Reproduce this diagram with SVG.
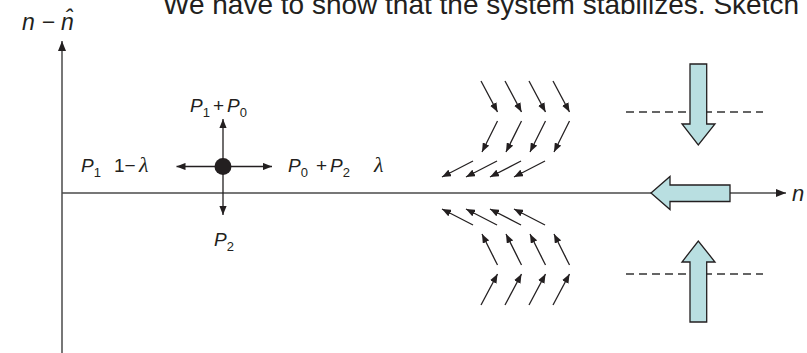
<svg xmlns="http://www.w3.org/2000/svg" width="807" height="353" viewBox="0 0 807 353">
<defs>
<style>
.ax{stroke:#4a4a4a;stroke-width:1.5;fill:none}
.sa{stroke:#231f20;stroke-width:1.3;fill:none;marker-end:url(#ah)}
.big{fill:#b9dfe1;stroke:#231f20;stroke-width:1.3;stroke-linejoin:miter}
.dash{stroke:#333;stroke-width:1.5;stroke-dasharray:8,5;fill:none}
.lab{font-family:"Liberation Sans",Arial,sans-serif;fill:#231f20}
.it{font-style:italic}
.sub{font-size:13px;font-style:normal}
.lam{font-family:"Liberation Serif","Times New Roman",serif;font-style:italic}
</style>
<marker id="ah" viewBox="0 0 10 8" refX="10" refY="4" markerWidth="9" markerHeight="7.5" markerUnits="userSpaceOnUse" orient="auto">
<path d="M0,0 L10,4 L0,8 z" fill="#231f20"/>
</marker>
<marker id="axh" viewBox="0 0 10 8" refX="10" refY="4" markerWidth="10" markerHeight="8" markerUnits="userSpaceOnUse" orient="auto">
<path d="M0,0 L10,4 L0,8 z" fill="#231f20"/>
</marker>
</defs>

<text class="lab" x="163" y="14" font-size="28" fill="#222">We have to show that the system stabilizes. Sketch</text>

<g id="axes">
<line class="ax" x1="62" y1="353" x2="62" y2="41" marker-end="url(#axh)"/>
<line class="ax" x1="62" y1="193" x2="786" y2="193" marker-end="url(#axh)"/>
<text class="lab it" x="22" y="30" font-size="23">n − n̂</text>
<text class="lab it" x="792" y="201" font-size="22">n</text>
</g>

<g id="dashes">
<line class="dash" x1="626" y1="112" x2="763" y2="112"/>
<line class="dash" x1="626" y1="274" x2="763" y2="274"/>
</g>

<g id="connectors">
<line class="sa" x1="223" y1="166.5" x2="223" y2="119"/>
<line class="sa" x1="223" y1="166.5" x2="223" y2="215"/>
<line class="sa" x1="223" y1="166.5" x2="176.5" y2="166.5"/>
<line class="sa" x1="223" y1="166.5" x2="272" y2="166.5"/>

<line class="sa" x1="481" y1="81" x2="497.5" y2="112"/>
<line class="sa" x1="505" y1="81" x2="521.5" y2="112"/>
<line class="sa" x1="529" y1="81" x2="545.5" y2="112"/>
<line class="sa" x1="553" y1="81" x2="569.5" y2="112"/>

<line class="sa" x1="497.5" y1="121" x2="482" y2="152"/>
<line class="sa" x1="521.5" y1="121" x2="506" y2="152"/>
<line class="sa" x1="545.5" y1="121" x2="530" y2="152"/>
<line class="sa" x1="569.5" y1="121" x2="554" y2="152"/>

<line class="sa" x1="473" y1="161" x2="442" y2="177"/>
<line class="sa" x1="497" y1="161" x2="466" y2="177"/>
<line class="sa" x1="521" y1="161" x2="490" y2="177"/>
<line class="sa" x1="545" y1="161" x2="514" y2="177"/>

<line class="sa" x1="473" y1="225" x2="442" y2="209"/>
<line class="sa" x1="497" y1="225" x2="466" y2="209"/>
<line class="sa" x1="521" y1="225" x2="490" y2="209"/>
<line class="sa" x1="545" y1="225" x2="514" y2="209"/>

<line class="sa" x1="497.5" y1="265" x2="482" y2="234"/>
<line class="sa" x1="521.5" y1="265" x2="506" y2="234"/>
<line class="sa" x1="545.5" y1="265" x2="530" y2="234"/>
<line class="sa" x1="569.5" y1="265" x2="554" y2="234"/>

<line class="sa" x1="481" y1="305" x2="497.5" y2="274"/>
<line class="sa" x1="505" y1="305" x2="521.5" y2="274"/>
<line class="sa" x1="529" y1="305" x2="545.5" y2="274"/>
<line class="sa" x1="553" y1="305" x2="569.5" y2="274"/>
</g>

<g id="state">
<circle cx="223" cy="166.5" r="8.5" fill="#231f20"/>
</g>

<g id="label-top">
<text class="lab" font-size="19" y="112"><tspan class="it" x="190">P</tspan><tspan class="sub" dy="5">1</tspan><tspan x="213" dy="-5">+</tspan><tspan class="it" x="227">P</tspan><tspan class="sub" dy="5">0</tspan></text>
</g>
<g id="label-left">
<text class="lab" font-size="19" y="172"><tspan class="it" x="81">P</tspan><tspan class="sub" dy="5">1</tspan><tspan x="114" dy="-5">1−</tspan></text>
<text class="lab lam" font-size="22" x="139" y="172">λ</text>
</g>
<g id="label-right">
<text class="lab" font-size="19" y="172"><tspan class="it" x="288">P</tspan><tspan class="sub" dy="5">0</tspan><tspan x="316" dy="-5">+</tspan><tspan class="it" x="330">P</tspan><tspan class="sub" dy="5">2</tspan></text>
<text class="lab lam" font-size="22" x="374" y="172">λ</text>
</g>
<g id="label-bottom">
<text class="lab" font-size="19" y="246"><tspan class="it" x="214">P</tspan><tspan class="sub" dy="5">2</tspan></text>
</g>

<g id="big-down">
<polygon class="big" points="690,64 706.7,64 706.7,124 715,124 698.3,145 682,124 690,124"/>
</g>
<g id="big-left">
<polygon class="big" points="730,185 730,201.5 670,201.5 670,209.5 651,193 670,176.5 670,185"/>
</g>
<g id="big-up">
<polygon class="big" points="690,322 706.7,322 706.7,262 715,262 698.3,241 682,262 690,262"/>
</g>
</svg>
